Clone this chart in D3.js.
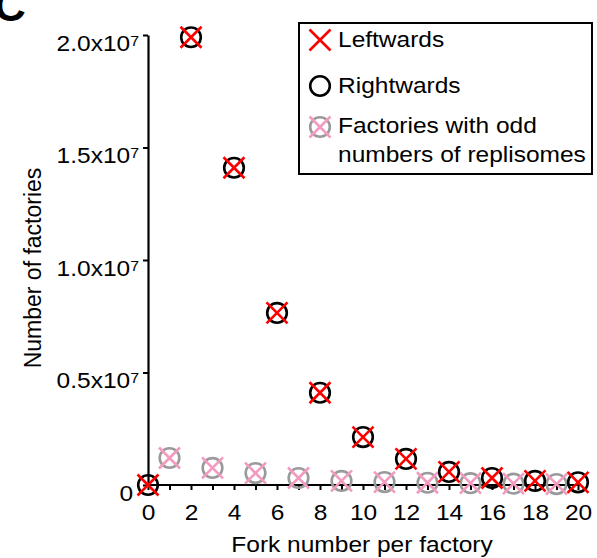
<!DOCTYPE html>
<html>
<head>
<meta charset="utf-8">
<script src="https://cdn.jsdelivr.net/npm/d3@7"></script>
<style>
  body { margin: 0; background: #fff; }
  svg { display: block; font-family: "Liberation Sans", Arial, Helvetica, sans-serif; }
</style>
</head>
<body>
<div id="container"></div>
<script>
/* CONSTANTS AND GLOBALS */
const width = 597, height = 558;
const fs = 21.5, sx = 1.14; // text size and the wide look of the original lettering

/* DATA */
// fork numbers with an even count (leftwards and rightwards overlap)
const evenForks = [0, 2, 4, 6, 8, 10, 12, 14, 16, 18, 20];
const leftwards = [0, 1.99e7, 1.41e7, 0.765e7, 0.41e7, 0.213e7, 1.16e6, 0.58e6, 0.31e6, 0.18e6, 0.12e6];
const rightwards = [0, 1.99e7, 1.41e7, 0.765e7, 0.41e7, 0.213e7, 1.16e6, 0.58e6, 0.31e6, 0.18e6, 0.12e6];
// odd numbers of replisomes
const oddForks = [1, 3, 5, 7, 9, 11, 13, 15, 17, 19];
const oddFactories = [1.2e6, 0.76e6, 0.53e6, 0.31e6, 0.18e6, 0.13e6, 0.1e6, 0.08e6, 0.06e6, 0.04e6];
const yTicks = [0, 0.5e7, 1.0e7, 1.5e7, 2.0e7];
const yTickLabels = ["0", "0.5x10", "1.0x10", "1.5x10", "2.0x10"];

const svg = d3.select("#container").append("svg")
  .attr("width", width)
  .attr("height", height);

/* SCALES */
const xScale = d3.scaleLinear().domain([0, 20]).range([148, 578]);
const yScale = d3.scaleLinear().domain([0, 2e7]).range([485, 35]);

/* AXES */
const xAxis = d3.axisBottom(xScale)
  .tickValues(d3.range(0, 21))
  .tickSize(5)
  .tickSizeOuter(0)
  .tickFormat(d => d % 2 === 0 ? d : "");

const gx = svg.append("g")
  .attr("transform", `translate(0,${yScale(0)})`)
  .call(xAxis);
gx.select(".domain").attr("stroke-width", 2.2).attr("d", `M${xScale(0)},0H${xScale(20) + 2}`);
gx.selectAll(".tick line").attr("stroke-width", 2);
gx.selectAll(".tick text")
  .attr("y", 35)
  .attr("dy", null)
  .attr("transform", `scale(${sx},1)`)
  .attr("font-size", fs)
  .attr("fill", "#000");

const yAxis = d3.axisLeft(yScale)
  .tickValues(yTicks)
  .tickSize(5)
  .tickSizeOuter(0)
  .tickFormat("");

const gy = svg.append("g")
  .attr("transform", `translate(${xScale(0)},0)`)
  .call(yAxis);
gy.select(".domain").attr("stroke-width", 2.2);
gy.selectAll(".tick line").attr("stroke-width", 2);

const yLab = gy.selectAll(".tick")
  .append("text")
  .attr("transform", `scale(${sx},1)`)
  .attr("x", d => (d === 0 ? -15 : -9) / sx)
  .attr("y", 15)
  .attr("text-anchor", "end")
  .attr("font-size", fs)
  .attr("fill", "#000");
yLab.append("tspan").text((d, i) => yTickLabels[i]);
yLab.filter(d => d !== 0).append("tspan")
  .attr("font-size", 14)
  .attr("dy", -5)
  .text("7");

/* AXIS TITLES */
svg.append("text")
  .attr("transform", `translate(362,552) scale(${sx},1)`)
  .attr("text-anchor", "middle")
  .attr("font-size", fs)
  .text("Fork number per factory");

svg.append("text")
  .attr("transform", "translate(41,268) rotate(-90)")
  .attr("text-anchor", "middle")
  .attr("font-size", 23)
  .text("Number of factories");

// panel letter, clipped by the page top as in the original figure
svg.append("text")
  .attr("x", -6)
  .attr("y", 21)
  .attr("font-size", 44)
  .attr("font-weight", "bold")
  .text("C");

/* MARKERS */
const r = 9.8, c = 10.5;
function cross(g, color, sw) {
  g.append("path")
    .attr("d", `M${-c},${-c}L${c},${c}M${-c},${c}L${c},${-c}`)
    .attr("stroke", color)
    .attr("stroke-width", sw)
    .attr("fill", "none");
}
function ring(g, color, sw) {
  g.append("circle")
    .attr("r", r)
    .attr("fill", "none")
    .attr("stroke", color)
    .attr("stroke-width", sw);
}

const oddData = oddForks.map((f, i) => ({ f, v: oddFactories[i] }));
const rightData = evenForks.map((f, i) => ({ f, v: rightwards[i] }));
const leftData = evenForks.map((f, i) => ({ f, v: leftwards[i] }));

svg.selectAll("g.odd")
  .data(oddData)
  .join("g")
  .attr("class", "odd")
  .attr("transform", d => `translate(${xScale(d.f)},${yScale(d.v)})`)
  .each(function () {
    const g = d3.select(this);
    ring(g, "#9a9a9a", 2.6);
    cross(g, "#f39ac0", 2.6);
  });

svg.selectAll("g.right")
  .data(rightData)
  .join("g")
  .attr("class", "right")
  .attr("transform", d => `translate(${xScale(d.f)},${yScale(d.v)})`)
  .each(function () { ring(d3.select(this), "#000", 2.6); });

svg.selectAll("g.left")
  .data(leftData)
  .join("g")
  .attr("class", "left")
  .attr("transform", d => `translate(${xScale(d.f)},${yScale(d.v)})`)
  .each(function () { cross(d3.select(this), "#ff0000", 2.6); });

/* LEGEND */
const legend = svg.append("g");
legend.append("rect")
  .attr("x", 299).attr("y", 23)
  .attr("width", 293).attr("height", 151)
  .attr("fill", "#fff")
  .attr("stroke", "#000")
  .attr("stroke-width", 2);

const l1 = legend.append("g").attr("transform", "translate(320,40)");
cross(l1, "#ff0000", 2.6);
const l2 = legend.append("g").attr("transform", "translate(320,86)");
ring(l2, "#000", 2.6);
const l3 = legend.append("g").attr("transform", "translate(320,127)");
ring(l3, "#9a9a9a", 2.6);
cross(l3, "#f39ac0", 2.6);

const legendText = [
  ["Leftwards", 47],
  ["Rightwards", 93],
  ["Factories with odd", 133],
  ["numbers of replisomes", 162]
];
legend.selectAll("text")
  .data(legendText)
  .join("text")
  .attr("transform", d => `translate(338,${d[1]}) scale(${sx},1)`)
  .attr("font-size", fs)
  .text(d => d[0]);
</script>
</body>
</html>
